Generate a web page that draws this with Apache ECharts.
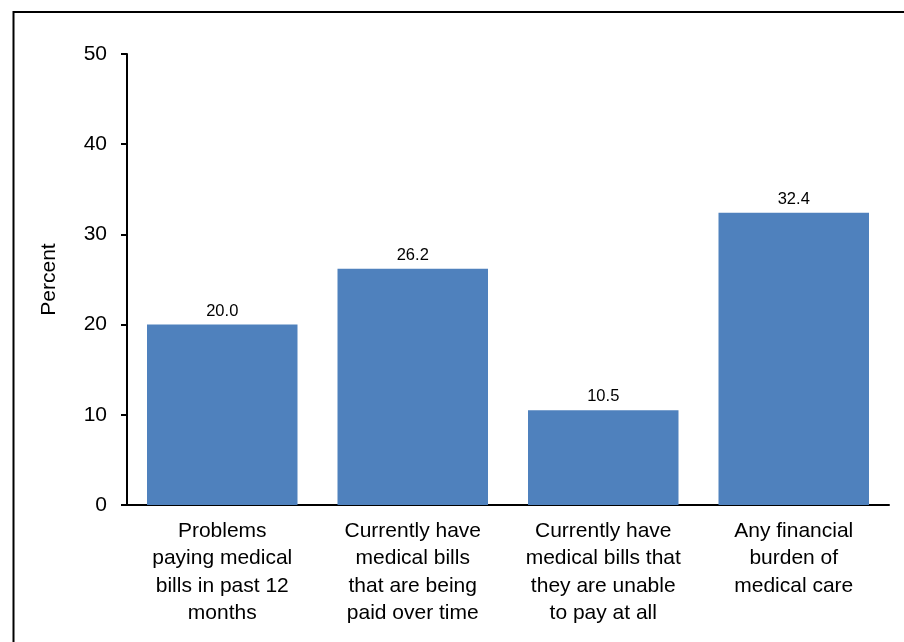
<!DOCTYPE html>
<html><head><meta charset="utf-8">
<script src="https://cdn.jsdelivr.net/npm/echarts@6/dist/echarts.min.js"></script>
<style>html,body{margin:0;padding:0;background:#fff}#c{width:904px;height:642px}</style>
</head><body><div id="c"></div>
<script>
const categories = [
  "Problems\npaying medical\nbills in past 12\nmonths",
  "Currently have\nmedical bills\nthat are being\npaid over time",
  "Currently have\nmedical bills that\nthey are unable\nto pay at all",
  "Any financial\nburden of\nmedical care"
];
const values = [20.0, 26.2, 10.5, 32.4];
const yTicks = [0, 10, 20, 30, 40, 50];
const yAxisName = "Percent";

const chart = echarts.init(document.getElementById('c'), null, {renderer: 'canvas'});
const font = '"Liberation Sans", Arial, sans-serif';
chart.setOption({
  animation: false,
  backgroundColor: '#fff',
  graphic: [{
    type: 'rect', silent: true,
    shape: {x: 13.5, y: 12, width: 1000, height: 1000},
    style: {fill: 'none', stroke: '#000', lineWidth: 2}
  }],
  grid: {left: 127, right: 15, top: 54, bottom: 137},
  xAxis: {
    type: 'category', data: categories,
    axisLine: {lineStyle: {color: '#000', width: 2}},
    axisTick: {show: false},
    axisLabel: {color: '#000', fontFamily: font, fontSize: 21, lineHeight: 27.5, margin: 12, interval: 0}
  },
  yAxis: {
    type: 'value', min: yTicks[0], max: yTicks[yTicks.length-1], interval: 10,
    name: yAxisName, nameLocation: 'middle', nameGap: 67, nameRotate: 90,
    nameTextStyle: {color: '#000', fontFamily: font, fontSize: 21},
    axisLine: {show: true, lineStyle: {color: '#000', width: 2}},
    axisTick: {show: true, length: 6, lineStyle: {color: '#000', width: 2}},
    splitLine: {show: false},
    axisLabel: {color: '#000', fontFamily: font, fontSize: 21, margin: 20}
  },
  series: [{
    type: 'bar', data: values, barCategoryGap: '21%',
    itemStyle: {color: '#4F81BD'},
    label: {show: true, position: 'top', distance: 5, color: '#000', fontFamily: font, fontSize: 16.5,
      formatter: p => p.value.toFixed(1)}
  }]
});
</script></body></html>
